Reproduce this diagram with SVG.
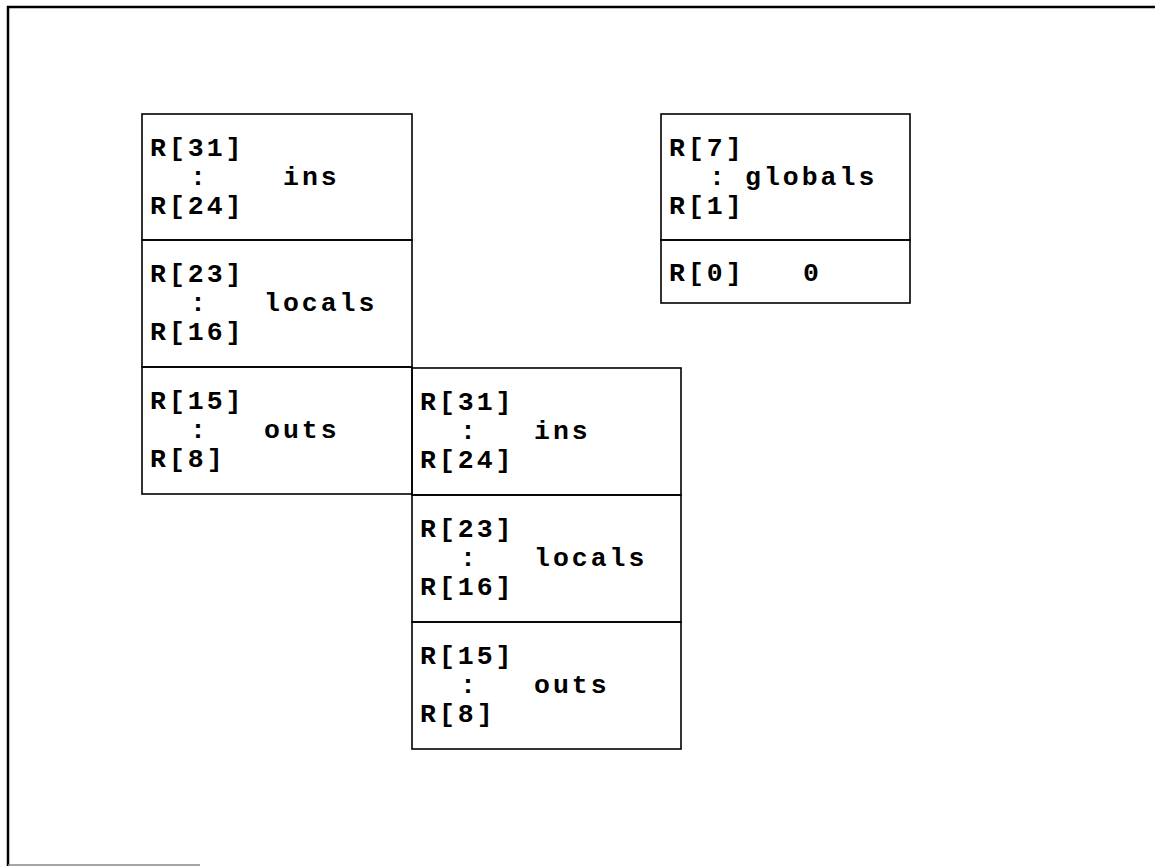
<svg xmlns="http://www.w3.org/2000/svg" width="1155" height="866" viewBox="0 0 1155 866">
<style>
.frame{fill:none;stroke:#000;stroke-width:2.5}
.box{fill:none;stroke:#000;stroke-width:1.6}
text{font-family:"Liberation Mono","Courier New",monospace;font-weight:bold;font-size:26.5px;letter-spacing:3px;fill:#000}
</style>
<rect width="1155" height="866" fill="#fff"/>
<g id="frame">
<line class="frame" x1="7" y1="7" x2="1155" y2="7"/>
<line class="frame" x1="8" y1="6" x2="8" y2="866"/>
<line x1="8" y1="865" x2="200" y2="865" stroke="#888" stroke-width="1.5"/>
</g>
<g id="window1-ins">
<rect class="box" x="142" y="114" width="270" height="126"/>
<text x="150" y="156">R[31]</text>
<text x="190" y="185">:</text>
<text x="283" y="185">ins</text>
<text x="150" y="214">R[24]</text>
</g>
<g id="window1-locals">
<rect class="box" x="142" y="240" width="270" height="127"/>
<text x="150" y="282">R[23]</text>
<text x="190" y="311">:</text>
<text x="264" y="311">locals</text>
<text x="150" y="340">R[16]</text>
</g>
<g id="window1-outs">
<rect class="box" x="142" y="367" width="270" height="127"/>
<text x="150" y="409">R[15]</text>
<text x="190" y="438">:</text>
<text x="264" y="438">outs</text>
<text x="150" y="467">R[8]</text>
</g>
<g id="window2-ins">
<rect class="box" x="412" y="368" width="269" height="127"/>
<text x="420" y="410">R[31]</text>
<text x="460" y="439">:</text>
<text x="534" y="439">ins</text>
<text x="420" y="468">R[24]</text>
</g>
<g id="window2-locals">
<rect class="box" x="412" y="495" width="269" height="127"/>
<text x="420" y="537">R[23]</text>
<text x="460" y="566">:</text>
<text x="534" y="566">locals</text>
<text x="420" y="595">R[16]</text>
</g>
<g id="window2-outs">
<rect class="box" x="412" y="622" width="269" height="127"/>
<text x="420" y="664">R[15]</text>
<text x="460" y="693">:</text>
<text x="534" y="693">outs</text>
<text x="420" y="722">R[8]</text>
</g>
<g id="globals">
<rect class="box" x="661" y="114" width="249" height="126"/>
<text x="669" y="156">R[7]</text>
<text x="709" y="185">:</text>
<text x="745" y="185">globals</text>
<text x="669" y="214">R[1]</text>
</g>
<g id="zero">
<rect class="box" x="661" y="240" width="249" height="63"/>
<text x="669" y="281">R[0]</text>
<text x="803" y="281">0</text>
</g>
<g id="connectors"></g>
</svg>
